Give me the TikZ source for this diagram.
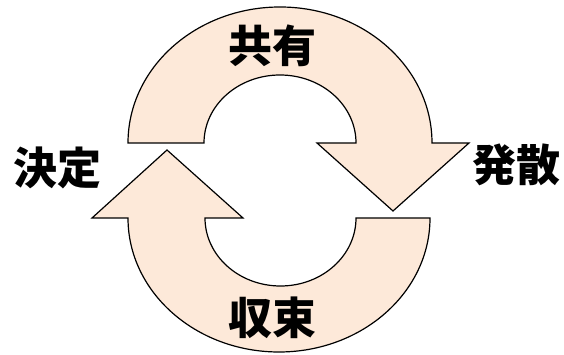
\documentclass[tikz,border=0pt]{standalone}
\usepackage{fontspec}
\newfontfamily\cjk{Noto Sans CJK JP}
\definecolor{peach}{RGB}{253,233,217}
\begin{document}
\begin{tikzpicture}[x=1pt,y=1pt,
  arrowshape/.style={draw=black,fill=peach,line width=1.2pt,line join=miter},
  lbl/.style={font=\cjk\bfseries\fontsize{44}{48}\selectfont,inner sep=0pt,text=black}]
\useasboundingbox (0,0) rectangle (564,355);
% top arrow (clockwise, pointing down on the right)
\draw[arrowshape] (128,212) arc[start angle=180,end angle=0,x radius=152,y radius=136]
  -- (469,212) -- (393,144) -- (317,212) -- (356,212)
  arc[start angle=0,end angle=180,x radius=76,y radius=68] -- cycle;
% bottom arrow (pointing up on the left)
\draw[arrowshape] (430,137) arc[start angle=0,end angle=-180,x radius=151,y radius=134]
  -- (92,137) -- (167,205) -- (243,137) -- (205,137)
  arc[start angle=-180,end angle=0,x radius=75.5,y radius=68] -- cycle;
\node[lbl] (share) at (272,309) {共有};
\node[lbl] (conv) at (272,37) {収束};
\node[lbl] (decide) at (57,187) {決定};
\node[lbl] (diverge) at (516,190) {発散};
\end{tikzpicture}
\end{document}
